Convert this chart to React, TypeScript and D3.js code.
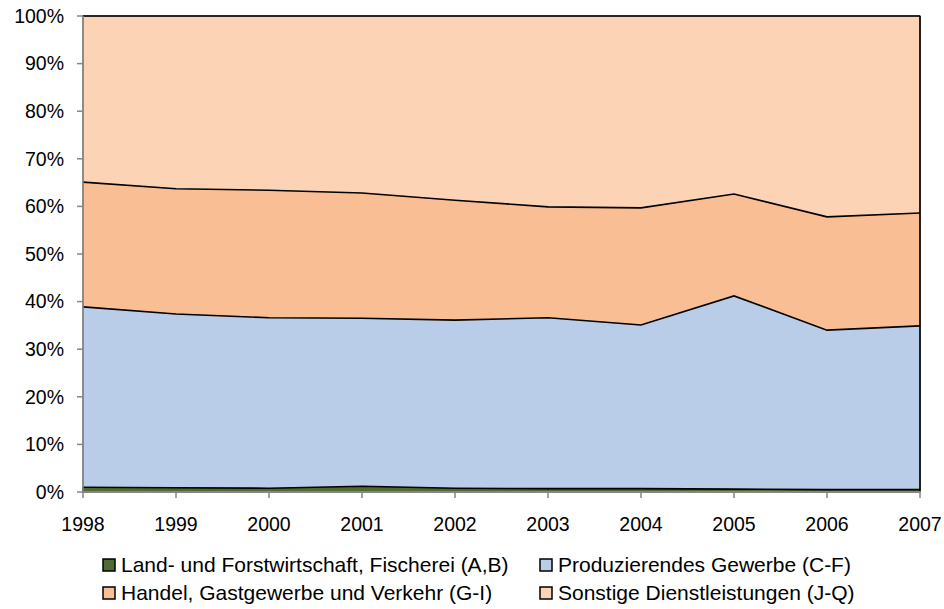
import React from "react";
import * as d3 from "d3";

const years = ["1998", "1999", "2000", "2001", "2002", "2003", "2004", "2005", "2006", "2007"];
const land = [1.0, 0.9, 0.8, 1.2, 0.8, 0.7, 0.7, 0.6, 0.5, 0.5];
const produzierend = [37.9, 36.5, 35.8, 35.3, 35.3, 35.9, 34.4, 40.6, 33.5, 34.4];
const handel = [26.2, 26.3, 26.8, 26.3, 25.2, 23.3, 24.6, 21.4, 23.8, 23.7];
const sonstige = years.map((_, i) => 100 - land[i] - produzierend[i] - handel[i]);
const seriesNames = [
  "Land- und Forstwirtschaft, Fischerei (A,B)",
  "Produzierendes Gewerbe (C-F)",
  "Handel, Gastgewerbe und Verkehr (G-I)",
  "Sonstige Dienstleistungen (J-Q)",
];
const colors = ["#4F6B32", "#B9CDE8", "#F9BE93", "#FCD3B4"];
const yTicks = [0, 10, 20, 30, 40, 50, 60, 70, 80, 90, 100];

export default function App() {
  const left = 83, right = 920, top = 16, bottom = 492;
  const x = d3.scalePoint<string>().domain(years).range([left, right]);
  const y = d3.scaleLinear().domain([0, 100]).range([bottom, top]);
  const rows = years.map((yr, i) => ({ yr, s0: land[i], s1: produzierend[i], s2: handel[i], s3: sonstige[i] }));
  const stack = d3.stack<any>().keys(["s0", "s1", "s2", "s3"])(rows);
  const area = d3
    .area<any>()
    .x((d) => x(d.data.yr)!)
    .y0((d) => y(d[0]))
    .y1((d) => y(d[1]));
  const line = d3
    .line<any>()
    .x((d) => x(d.data.yr)!)
    .y((d) => y(d[1]));
  const font = "'Liberation Sans', Arial, sans-serif";
  const legend = [
    { i: 0, lx: 103, ly: 565 },
    { i: 1, lx: 540, ly: 565 },
    { i: 2, lx: 103, ly: 593 },
    { i: 3, lx: 540, ly: 593 },
  ];
  return (
    <svg width={944} height={609} style={{ position: "absolute", left: 0, top: 0 }} fontFamily={font}>
      <rect x={0} y={0} width={944} height={609} fill="#fff" />
      {stack.map((s, k) => (
        <path key={"a" + k} d={area(s)!} fill={colors[k]} stroke="none" />
      ))}
      <rect x={left} y={top} width={right - left} height={bottom - top} fill="none" stroke="#868686" strokeWidth={1.5} />
      {stack.map((s, k) => (
        <path key={"l" + k} d={line(s)!} fill="none" stroke="#000" strokeWidth={1.6} />
      ))}
      <line x1={right} x2={right} y1={top} y2={bottom} stroke="#000" strokeWidth={1.6} />
      <line x1={left} x2={left} y1={y(land[0])} y2={bottom} stroke="#000" strokeWidth={1} />
      <line x1={left} x2={left} y1={top} y2={bottom + 1} stroke="#868686" strokeWidth={1.5} />
      <line x1={left - 1} x2={right + 1} y1={bottom} y2={bottom} stroke="#868686" strokeWidth={2} />
      {yTicks.map((t) => (
        <g key={"y" + t}>
          <line x1={left - 6} x2={left} y1={y(t)} y2={y(t)} stroke="#868686" strokeWidth={1.5} />
          <text x={left - 19} y={y(t)} dy="0.35em" textAnchor="end" fontSize={19.5} fill="#000">
            {t + "%"}
          </text>
        </g>
      ))}
      {years.map((yr) => (
        <g key={"x" + yr}>
          <line x1={x(yr)} x2={x(yr)} y1={bottom} y2={bottom + 6} stroke="#868686" strokeWidth={1.5} />
          <text x={x(yr)} y={bottom + 39} textAnchor="middle" fontSize={19.5} fill="#000">
            {yr}
          </text>
        </g>
      ))}
      {legend.map(({ i, lx, ly }) => (
        <g key={"lg" + i}>
          <rect x={lx} y={ly - 6} width={12} height={12} fill={colors[i]} stroke="#000" strokeWidth={1.5} />
          <text x={lx + 18} y={ly} dy="0.35em" fontSize={21} fill="#000">
            {seriesNames[i]}
          </text>
        </g>
      ))}
    </svg>
  );
}
